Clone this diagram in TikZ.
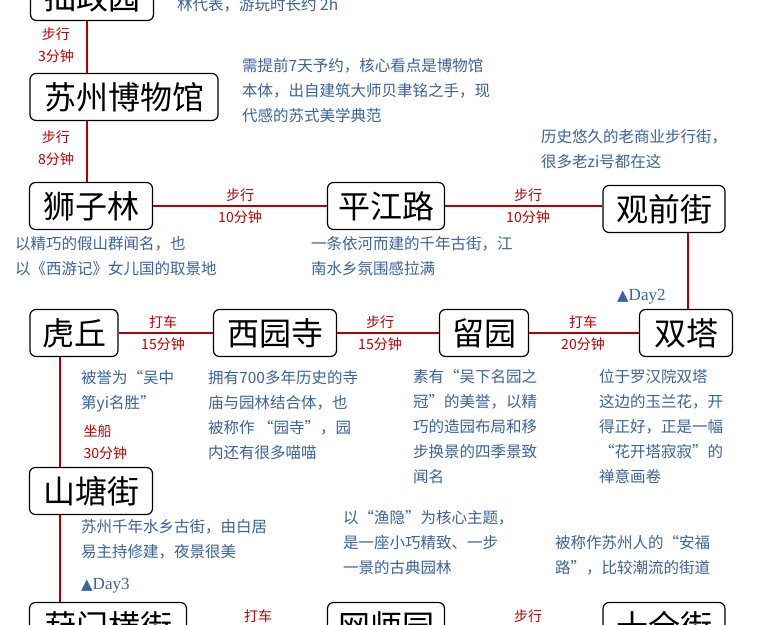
\documentclass[tikz,border=0pt]{standalone}
\usepackage{fontspec}
\setmainfont{Noto Sans CJK SC}
\newfontfamily\dvs{DejaVu Sans}
\newfontfamily\lserif{Liberation Serif}
\begin{document}
\begin{tikzpicture}[x=1pt,y=-1pt,
  spot/.style={draw=black,line width=1.2pt,rounded corners=6pt,fill=white,font=\fontsize{32}{34}\selectfont,inner sep=0pt,minimum height=47pt},
  link/.style={draw=red!70!black,line width=1.3pt},
  lab/.style={text=red!75!black,font=\fontsize{14}{22}\selectfont,align=center},
  desc/.style={text=cyan!45!blue!75!black,font=\fontsize{15.5}{25}\selectfont,align=left,anchor=north west,inner sep=0pt},
  dayl/.style={text=cyan!45!blue!75!black,font=\lserif\fontsize{17}{18}\selectfont,anchor=west,inner sep=0pt}]
\useasboundingbox (0,0) rectangle (760,624);
\clip (0,0) rectangle (760,624);
\fill[white] (0,0) rectangle (760,624);
\node[spot,minimum width=123pt] (zz) at (92,-3) {拙政园};
\node[spot,minimum width=188pt] (bw) at (124,97) {苏州博物馆};
\node[spot,minimum width=123pt] (sz) at (91,206) {狮子林};
\node[spot,minimum width=117pt] (pj) at (386,206) {平江路};
\node[spot,minimum width=122pt] (gq) at (664,209) {观前街};
\node[spot,minimum width=93pt] (st) at (686,333) {双塔};
\node[spot,minimum width=89pt] (ly) at (484,333) {留园};
\node[spot,minimum width=123pt] (xy) at (275,333) {西园寺};
\node[spot,minimum width=88pt] (hq) at (74,333) {虎丘};
\node[spot,minimum width=123pt] (stj) at (91,491) {山塘街};
\node[spot,minimum width=157pt] (fm) at (108,626) {葑门横街};
\node[spot,minimum width=117pt] (ws) at (386,626) {网师园};
\node[spot,minimum width=122pt] (sq) at (664,626) {十全街};
\draw[link] (87,0 |- zz.south) -- (87,0 |- bw.north);
\draw[link] (87,0 |- bw.south) -- (87,0 |- sz.north);
\draw[link] (sz.east) -- (pj.west);
\draw[link] (pj.east) -- (pj.east -| gq.west);
\draw[link] (688,0 |- gq.south) -- (688,0 |- st.north);
\draw[link] (st.west) -- (ly.east);
\draw[link] (ly.west) -- (xy.east);
\draw[link] (xy.west) -- (hq.east);
\draw[link] (60,0 |- hq.south) -- (60,0 |- stj.north);
\draw[link] (60,0 |- stj.south) -- (60,0 |- fm.north);
\node[lab] (l1) at (56,45) {步行\\3分钟};
\node[lab] (l2) at (56,148) {步行\\8分钟};
\node[lab] (l3) at (240,206) {步行\\10分钟};
\node[lab] (l4) at (528,206) {步行\\10分钟};
\node[lab] (l5) at (163,333) {打车\\15分钟};
\node[lab] (l6) at (380,333) {步行\\15分钟};
\node[lab] (l7) at (583,333) {打车\\20分钟};
\node[lab,align=left,anchor=west] (l8) at (80,442) {坐船\\30分钟};
\node[lab] (l9) at (258,616) {打车};
\node[lab] (l10) at (528,616) {步行};
\node[desc] (d0) at (177,-3) {林代表，游玩时长约 2h};
\node[desc] (d1) at (242,58) {需提前7天予约，核心看点是博物馆\\本体，出自建筑大师贝聿铭之手，现\\代感的苏式美学典范};
\node[desc] (d2) at (541,129) {历史悠久的老商业步行街，\\很多老zi号都在这};
\node[desc] (d3) at (15,236) {以精巧的假山群闻名，也\\以《西游记》女儿国的取景地};
\node[desc] (d4) at (311,236) {一条依河而建的千年古街，江\\南水乡氛围感拉满};
\node[dayl] (day2) at (617,297) {{\dvs\fontsize{15}{16}\selectfont ▲}Day2};
\node[desc] (d5) at (81,370) {被誉为“吴中\\第yi名胜”};
\node[desc] (d6) at (208,370) {拥有700多年历史的寺\\庙与园林结合体，也\\被称作 “园寺”，园\\内还有很多喵喵};
\node[desc] (d7) at (413,369) {素有“吴下名园之\\冠”的美誉，以精\\巧的造园布局和移\\步换景的四季景致\\闻名};
\node[desc] (d8) at (599,369) {位于罗汉院双塔\\这边的玉兰花，开\\得正好，正是一幅\\“花开塔寂寂”的\\禅意画卷};
\node[desc] (d9) at (81,519) {苏州千年水乡古街，由白居\\易主持修建，夜景很美};
\node[dayl] (day3) at (81,586) {{\dvs\fontsize{15}{16}\selectfont ▲}Day3};
\node[desc] (d10) at (343,510) {以“渔隐”为核心主题，\\是一座小巧精致、一步\\一景的古典园林};
\node[desc] (d11) at (555,535) {被称作苏州人的“安福\\路”，比较潮流的街道};
\end{tikzpicture}
\end{document}
